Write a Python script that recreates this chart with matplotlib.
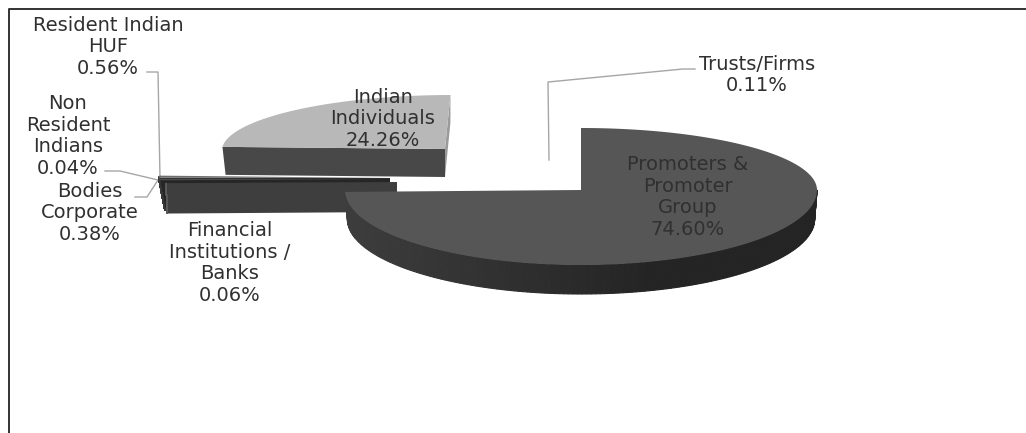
import numpy as np
import matplotlib
matplotlib.use("Agg")
from matplotlib import pyplot as plt
from matplotlib.patches import Polygon

# shareholding, clockwise from 12 o'clock
categories = ["Promoters &\nPromoter\nGroup", "Financial\nInstitutions /\nBanks", "Bodies\nCorporate",
              "Non\nResident\nIndians", "Resident Indian\nHUF", "Indian\nIndividuals", "Trusts/Firms"]
shares = [74.60, 0.06, 0.38, 0.04, 0.56, 24.26, 0.11]

# one entry per slice: apex x, apex y, rx, ry up, ry down, depth, taper, shear
slice_geom = [
    (581, 190, 236, 62, 75, 29, 0.990, 0),
    (397, 182, 231, 60, 60, 30, 0.995, 0),
    (390, 179, 231, 60, 60, 30, 0.975, 0),
    (390, 179, 231, 60, 60, 30, 0.975, 0),
    (390, 178, 231, 60, 60, 30, 0.975, 0),
    (445, 149, 223, 54, 54, 28, 0.986, 7),
    (548, 160, 20, 4, 4, 0, 1.0, 0),
]
top_colors = ["#565656", "#5a5a5a", "#4a4a4a", "#4a4a4a", "#6e6e6e", "#b8b8b8", "#ffffff"]
wall_colors = ["#2a2a2a", "#3e3e3e", "#262626", "#262626", "#2e2e2e", "#484848", "#ffffff"]
label_pos = [(688, 197), (230, 263), (90, 213), (68, 136), (108, 47), (383, 119), (757, 75)]
leaders = [
    [(147, 72), (158, 72), (160, 178)],
    [(105, 171), (120, 171), (158, 180)],
    [(135, 197), (147, 197), (158, 180)],
    [(695, 69), (683, 69), (548, 82), (549, 160)],
]
draw_order = [5, 4, 3, 2, 1, 0]


def rim_point(geom, t):
    cx, cy, rx, ry_up, ry_down, depth, taper, shear = geom
    c = np.cos(t)
    ry = ry_up if c > 0 else ry_down
    return cx + rx * np.sin(t) + shear * c, cy - ry * c


def lower(geom, x, y):
    # same point on the underside of the slab, pulled in a little for perspective
    cx, cy, rx, ry_up, ry_down, depth, taper, shear = geom
    return cx + (x - cx) * taper, y + depth


def wall_shade(color, t):
    # rim gets darker towards the right hand side
    base = np.array(matplotlib.colors.to_rgb(color))
    return np.clip(base * (1.0 + 0.45 * np.clip(-np.sin(t), -0.3, 1)), 0, 1)


def draw_slice(ax, geom, t0, t1, top, wall, z, side_face=False):
    cx, cy = geom[0], geom[1]
    ts = np.linspace(t0, t1, 240)
    rim = [rim_point(geom, t) for t in ts]

    if side_face:
        x, y = rim[-1]
        ax.add_patch(Polygon([(cx, cy), (x, y), lower(geom, x, y), lower(geom, cx, cy)],
                             fc="#9a9a9a", ec="none", zorder=z))

    # cut face in front of the apex
    x, y = rim[0]
    if t0 > np.pi:
        ax.add_patch(Polygon([(cx, cy), (x, y), lower(geom, x, y), lower(geom, cx, cy)],
                             fc=wall, ec="none", zorder=z))

    # outer wall, only the part that faces forward
    for i in range(len(ts) - 1):
        if np.cos(ts[i]) < 0.02:
            a, b = rim[i], rim[i + 1]
            shade = wall_shade(wall, ts[i])
            ax.add_patch(Polygon([a, b, lower(geom, *b), lower(geom, *a)],
                                 fc=shade, ec=shade, lw=0.8, zorder=z))

    ax.add_patch(Polygon([(cx, cy)] + rim, fc=top, ec="none", zorder=z + 0.05))


fig = plt.figure(figsize=(10.26, 4.33), dpi=100)
ax = fig.add_axes([0, 0, 1, 1])
ax.set_xlim(0, 1026)
ax.set_ylim(433, 0)
ax.axis("off")

# frame only has top and left sides
ax.plot([8.5, 8.5, 1026], [433, 9, 9], color="#333333", lw=1.4, zorder=1)

edges = np.cumsum([0] + shares)
edges = edges / edges[-1] * 2 * np.pi

for order, idx in enumerate(draw_order):
    draw_slice(ax, slice_geom[idx], edges[idx], edges[idx + 1], top_colors[idx], wall_colors[idx],
               3 + order * 0.1, side_face=categories[idx].startswith("Indian"))

for line in leaders:
    xs, ys = zip(*line)
    ax.plot(xs, ys, color="#a6a6a6", lw=1.0, zorder=2)

for name, value, pos in zip(categories, shares, label_pos):
    ax.text(pos[0], pos[1], f"{name}\n{value:.2f}%", ha="center", va="center",
            multialignment="center", fontsize=14, color="#303030",
            linespacing=1.19, zorder=5)

fig.savefig("out.png", dpi=100)
